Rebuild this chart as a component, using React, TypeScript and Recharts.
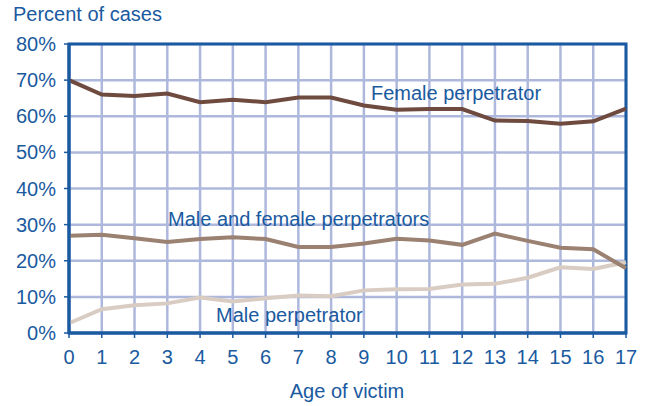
import { LineChart, Line, XAxis, YAxis, CartesianGrid, ReferenceArea } from "recharts";

const ages = [0, 1, 2, 3, 4, 5, 6, 7, 8, 9, 10, 11, 12, 13, 14, 15, 16, 17];
const female = [70, 66, 65.6, 66.3, 63.9, 64.6, 63.9, 65.2, 65.2, 63, 61.8, 62, 62, 58.8, 58.7, 57.9, 58.6, 62.1];
const both = [26.9, 27.2, 26.2, 25.2, 26, 26.5, 26, 23.8, 23.8, 24.8, 26.1, 25.6, 24.4, 27.5, 25.5, 23.6, 23.2, 17.9];
const male = [2.7, 6.6, 7.7, 8.2, 9.8, 8.7, 9.6, 10.4, 10.2, 11.8, 12.1, 12.2, 13.4, 13.6, 15.3, 18.2, 17.7, 19.6];
const yTicks = [0, 10, 20, 30, 40, 50, 60, 70, 80];

const data = ages.map((age, i) => ({ age, female: female[i], both: both[i], male: male[i] }));

const BLUE = "#1a5aa0";
const GRID = "#aeb8dc";
const FONT = "'Liberation Sans', Arial, sans-serif";

export default function App() {
  const tickStyle = { fill: BLUE, fontSize: 20, fontFamily: FONT };
  return (
    <div style={{ position: "absolute", left: 0, top: 0, width: 647, height: 406, background: "#fff" }}>
      <LineChart width={647} height={406} data={data} margin={{ top: 44, right: 21, left: 0, bottom: 0 }}>
        <CartesianGrid stroke={GRID} strokeWidth={2.5} verticalValues={ages} horizontalValues={yTicks} />
        <XAxis
          dataKey="age"
          type="number"
          domain={[0, 17]}
          ticks={ages}
          interval={0}
          height={73}
          tickSize={5}
          tickMargin={12}
          tick={tickStyle}
          axisLine={{ stroke: BLUE, strokeWidth: 3 }}
          tickLine={{ stroke: BLUE, strokeWidth: 1.5 }}
        />
        <YAxis
          type="number"
          domain={[0, 80]}
          ticks={yTicks}
          interval={0}
          width={69}
          tickSize={5}
          tickMargin={8}
          tick={tickStyle}
          tickFormatter={(v) => `${v}%`}
          axisLine={{ stroke: BLUE, strokeWidth: 3 }}
          tickLine={{ stroke: BLUE, strokeWidth: 1.5 }}
        />
        <ReferenceArea x1={0} x2={17} y1={0} y2={80} fill="none" stroke={BLUE} strokeWidth={3} ifOverflow="visible" />
        <Line dataKey="male" stroke="#d9ccc3" strokeWidth={4} dot={false} isAnimationActive={false} />
        <Line dataKey="both" stroke="#9b8171" strokeWidth={4} dot={false} isAnimationActive={false} />
        <Line dataKey="female" stroke="#6e4a3f" strokeWidth={4} dot={false} isAnimationActive={false} />
      </LineChart>
      <svg width={647} height={406} style={{ position: "absolute", left: 0, top: 0, pointerEvents: "none" }}>
        <g fill={BLUE} fontFamily={FONT} fontSize={20}>
          <text x={13} y={21}>Percent of cases</text>
          <text x={347} y={398} textAnchor="middle">Age of victim</text>
          <text x={371} y={100}>Female perpetrator</text>
          <text x={168} y={226}>Male and female perpetrators</text>
          <text x={216} y={322}>Male perpetrator</text>
        </g>
      </svg>
    </div>
  );
}
